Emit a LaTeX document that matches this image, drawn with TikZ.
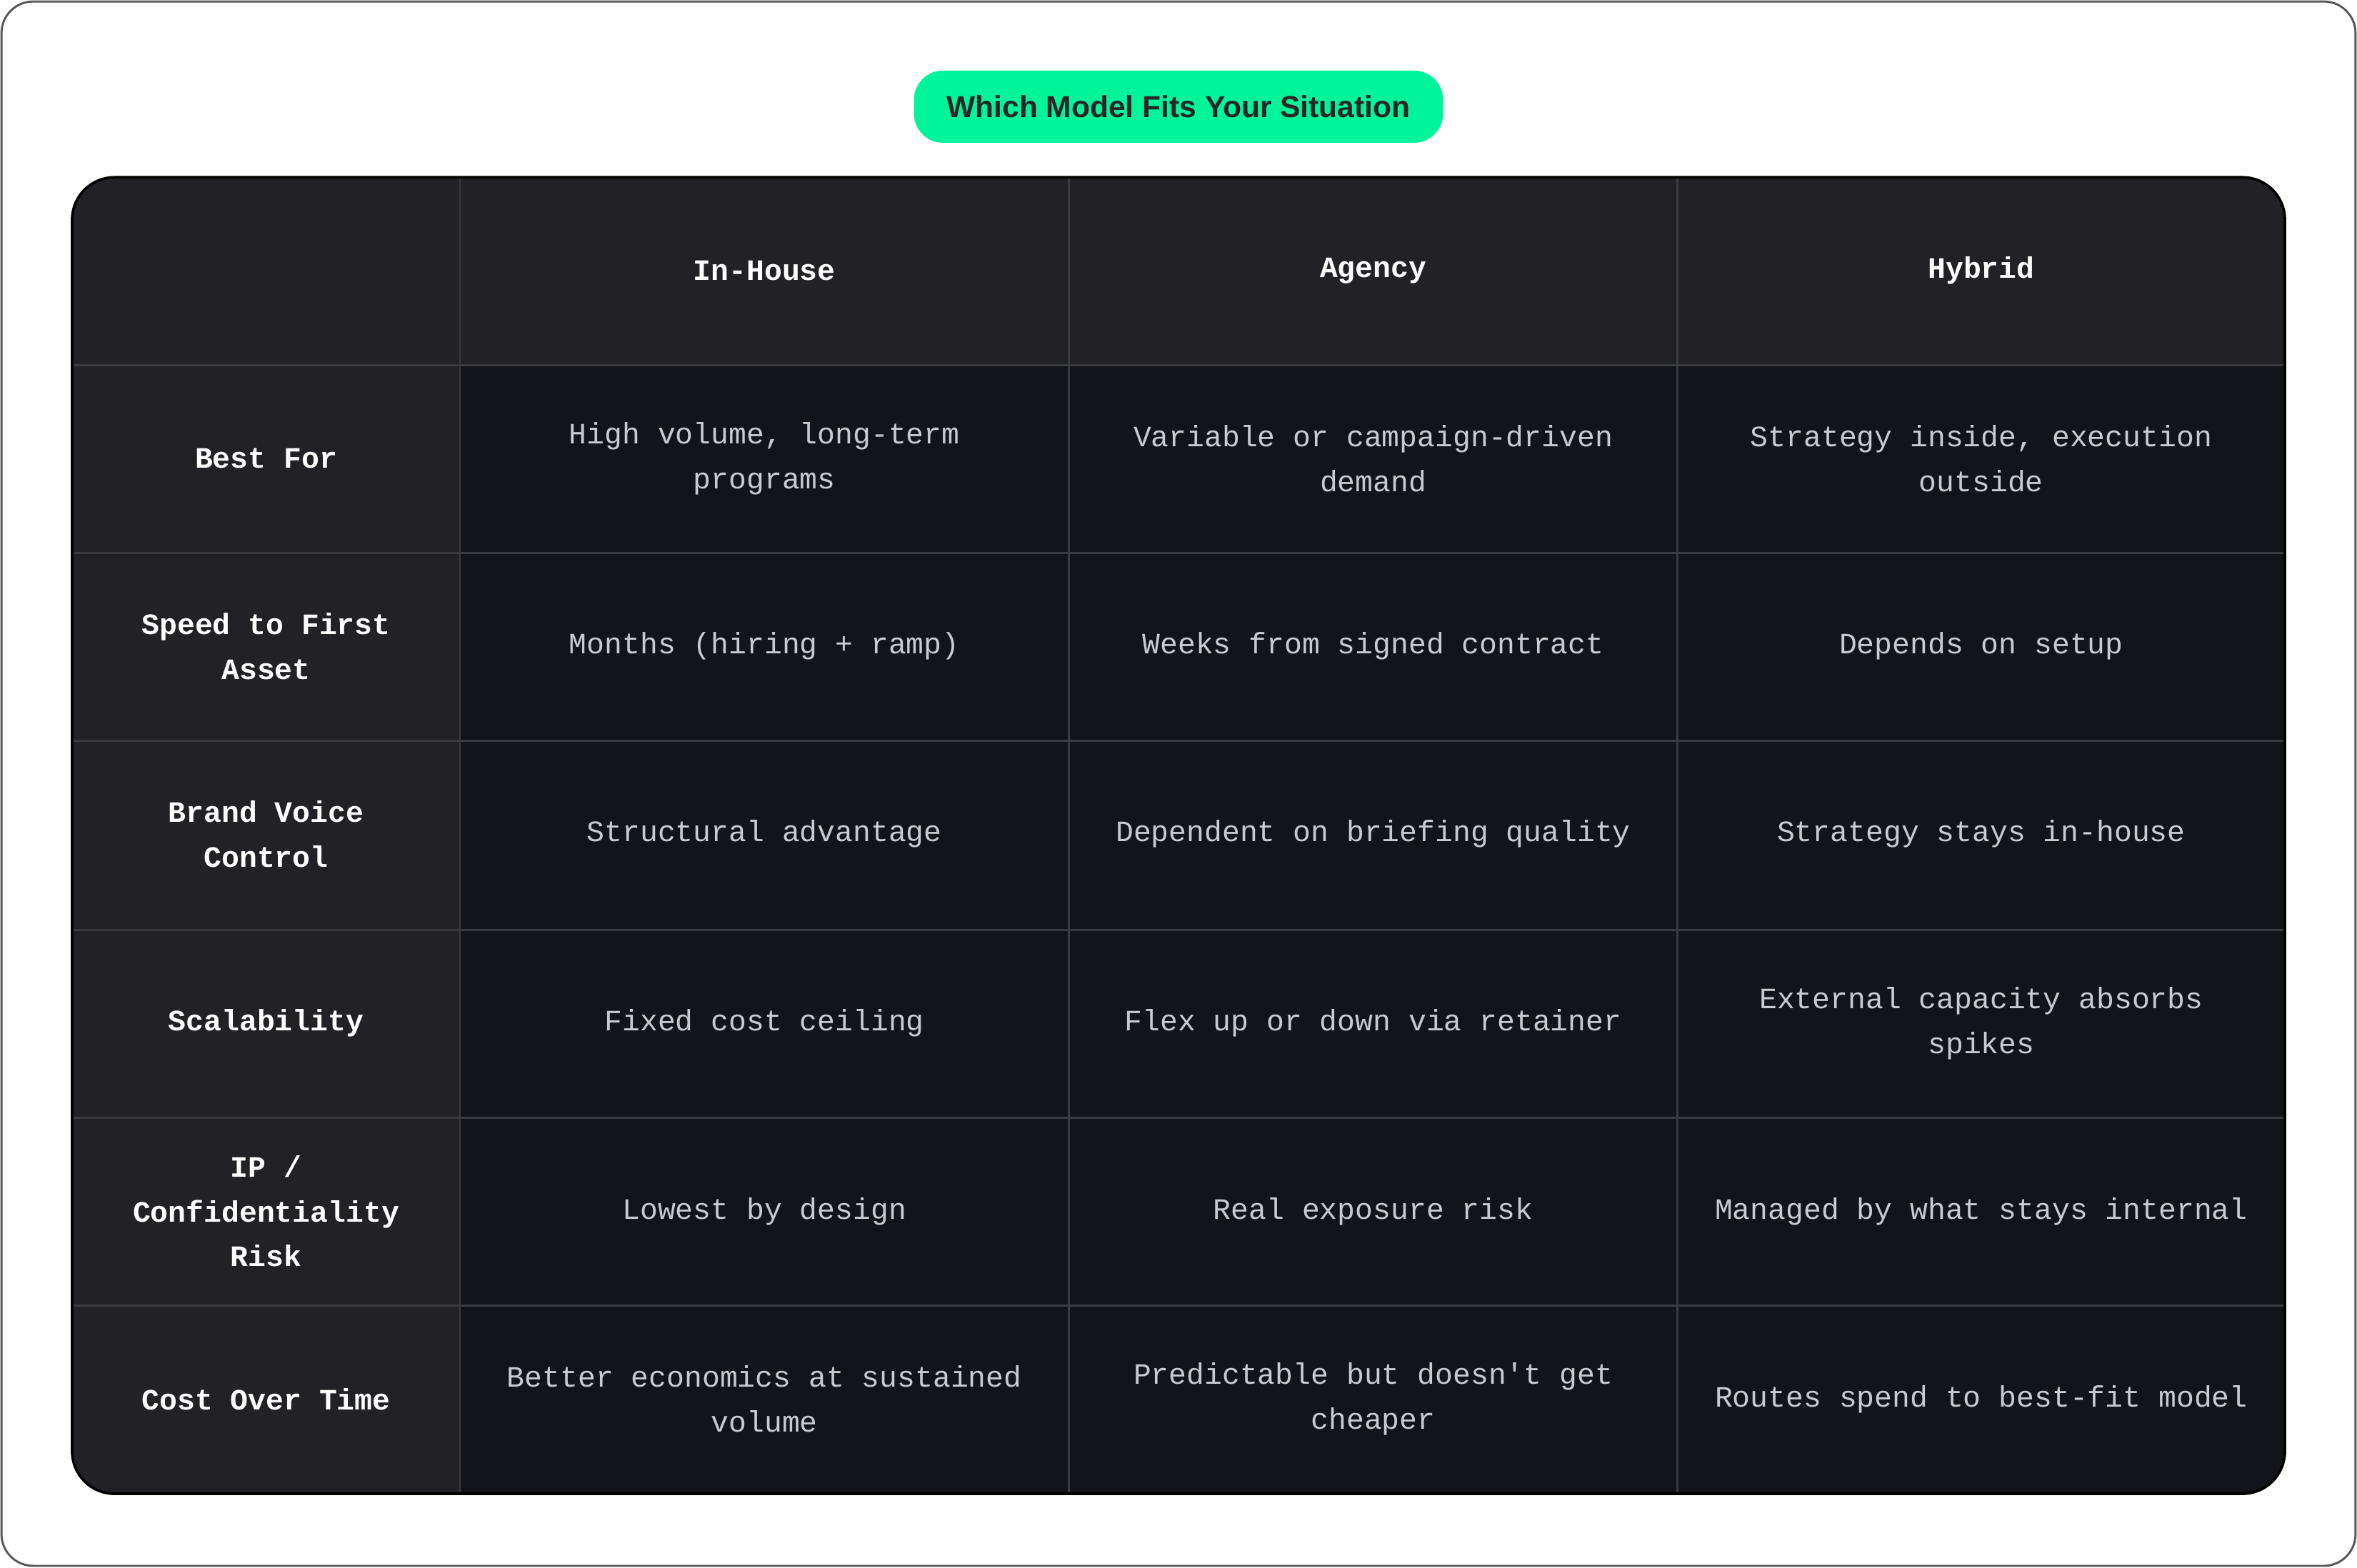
\documentclass[tikz,border=0pt]{standalone}
\usepackage{fontspec}
\setmainfont{Liberation Sans}
\setmonofont{Liberation Mono}
\definecolor{pill}{HTML}{00F59B}
\definecolor{body}{HTML}{131419}
\definecolor{head}{HTML}{212126}
\definecolor{grid}{HTML}{3A3B41}
\definecolor{txt}{HTML}{C9CACF}
\begin{document}
\begin{tikzpicture}[x=0.02cm,y=-0.02cm,
  hd/.style={font=\ttfamily\bfseries\fontsize{11.2}{17}\selectfont,text=white,align=center},
  cl/.style={font=\ttfamily\fontsize{11.2}{17}\selectfont,text=txt,align=center}]
\useasboundingbox (0,0) rectangle (1568,1043);
\fill[white] (0,0) rectangle (1568,1043);
\draw[gray!70!black,line width=0.8pt,rounded corners=12] (1,1) rectangle (1567,1042);
\node[fill=pill,rounded corners=11pt,minimum width=352*0.02cm,minimum height=48*0.02cm,font=\bfseries\fontsize{11.5}{14}\selectfont,text=black!85] (title) at (784,71) {Which Model Fits Your Situation};
\begin{scope}
\clip[rounded corners=16] (48,118) rectangle (1520,994);
\fill[body] (48,118) rectangle (1520,994);
\fill[head] (48,118) rectangle (1520,243);
\fill[head] (48,118) rectangle (306,994);
\foreach \x in {306,711,1116} \draw[grid,line width=0.8pt] (\x,118) -- (\x,994);
\foreach \y in {243,368,493,619,744,869} \draw[grid,line width=0.8pt] (48,\y) -- (1520,\y);
\end{scope}
\draw[black,line width=1pt,rounded corners=16] (48,118) rectangle (1520,994);
\node[hd] (h1) at (508.5,180) {In-House};
\node[hd] (h2) at (913.5,180) {Agency};
\node[hd] (h3) at (1318,180) {Hybrid};
\node[hd] (r1) at (177,305) {Best For};
\node[hd] (r2) at (177,430) {Speed to First\\Asset};
\node[hd] (r3) at (177,555) {Brand Voice\\Control};
\node[hd] (r4) at (177,681) {Scalability};
\node[hd] (r5) at (177,806) {IP /\\Confidentiality\\Risk};
\node[hd] (r6) at (177,931) {Cost Over Time};
\node[cl] (c11) at (508.5,305) {High volume, long-term\\programs};
\node[cl] (c12) at (913.5,305) {Variable or campaign-driven\\demand};
\node[cl] (c13) at (1318,305) {Strategy inside, execution\\outside};
\node[cl] (c21) at (508.5,430) {Months (hiring + ramp)};
\node[cl] (c22) at (913.5,430) {Weeks from signed contract};
\node[cl] (c23) at (1318,430) {Depends on setup};
\node[cl] (c31) at (508.5,555) {Structural advantage};
\node[cl] (c32) at (913.5,555) {Dependent on briefing quality};
\node[cl] (c33) at (1318,555) {Strategy stays in-house};
\node[cl] (c41) at (508.5,681) {Fixed cost ceiling};
\node[cl] (c42) at (913.5,681) {Flex up or down via retainer};
\node[cl] (c43) at (1318,681) {External capacity absorbs\\spikes};
\node[cl] (c51) at (508.5,806) {Lowest by design};
\node[cl] (c52) at (913.5,806) {Real exposure risk};
\node[cl] (c53) at (1318,806) {Managed by what stays internal};
\node[cl] (c61) at (508.5,931) {Better economics at sustained\\volume};
\node[cl] (c62) at (913.5,931) {Predictable but doesn't get\\cheaper};
\node[cl] (c63) at (1318,931) {Routes spend to best-fit model};
\end{tikzpicture}
\end{document}
